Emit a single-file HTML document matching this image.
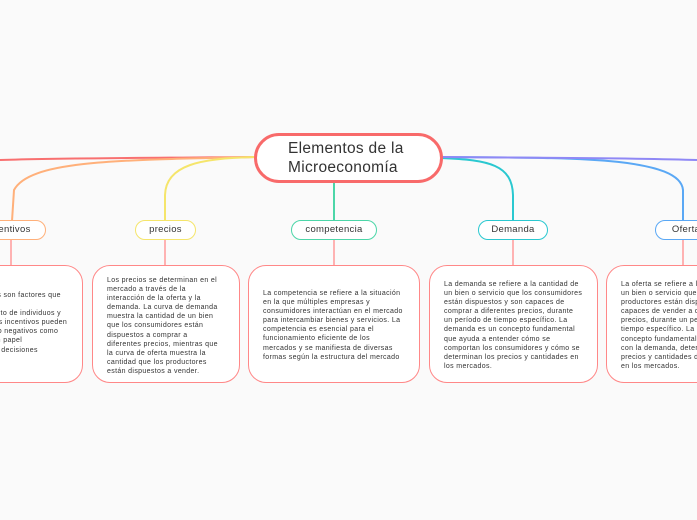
<!DOCTYPE html>
<html><head><meta charset="utf-8"><style>
body{margin:0;width:697px;height:520px;overflow:hidden;background:#fafafa;font-family:"Liberation Sans",sans-serif;position:relative}
.a{position:absolute}
.pill{position:absolute;height:18px;border:1.5px solid;border-radius:10px;background:#fff;font-size:9.5px;color:#333;text-align:center;line-height:18px;letter-spacing:0.3px}
.box{position:absolute;top:265px;height:118px;border:1.5px solid #f88;border-radius:18px;background:#fff;box-sizing:border-box}
.t{position:absolute;font-size:7px;line-height:9.1px;color:#333;white-space:nowrap;letter-spacing:0.35px}
</style></head><body>
<svg class="a" style="left:0;top:0" width="697" height="520" fill="none" stroke-width="2">
<path d="M256 157 C150 158 60 158 0 160" stroke="#f87070"/>
<path d="M256 157 C120 160 30 160 14 190 L12 221" stroke="#ffb07a"/>
<path d="M256 157 C200 158 166 165 165 195 L165 221" stroke="#f5e56b"/>
<path d="M334 183 L334 221" stroke="#4cd6a8"/>
<path d="M441 158 C490 160 512 165 513 195 L513 221" stroke="#2ac8d0"/>
<path d="M441 157 C560 158 680 155 683 190 L683 221" stroke="#5aa8f5"/>
<path d="M441 157 C560 158 640 158 697 160" stroke="#8f88f5"/>
<g stroke="#f99" stroke-width="1.5">
<path d="M11 240V265M165 240V265M334 240V265M513 240V265M683 240V265"/>
</g>
</svg>
<div class="a" style="left:254px;top:133px;width:189px;height:50px;box-sizing:border-box;border:3px solid #f86a6a;border-radius:25px;background:#fff"></div>
<div class="a" style="left:288px;top:139px;font-size:15.5px;line-height:19px;color:#333;letter-spacing:0.3px">Elementos de la<br>Microeconomía</div>
<div class="pill" style="left:-30px;top:220px;width:74px;border-color:#ffb07a">incentivos</div>
<div class="pill" style="left:135px;top:220px;width:59px;border-color:#f5e56b">precios</div>
<div class="pill" style="left:291px;top:220px;width:84px;border-color:#4cd6a8">competencia</div>
<div class="pill" style="left:478px;top:220px;width:68px;border-color:#2ac8d0">Demanda</div>
<div class="pill" style="left:655px;top:220px;width:60px;border-color:#5aa8f5">Oferta</div>
<div class="box" style="left:-60px;width:143px"></div>
<div class="box" style="left:92px;width:148px"></div>
<div class="box" style="left:248px;width:172px"></div>
<div class="box" style="left:429px;width:169px"></div>
<div class="box" style="left:606px;width:150px"></div>
<div class="t" style="left:-48px;top:291px">Los incentivos son factores que<br>influyen en el<br>comportamiento de individuos y<br>empresas. Los incentivos pueden<br>ser positivos o negativos como<br>que juegan un papel<br>en la toma de decisiones</div>
<div class="t" style="left:107px;top:276px">Los precios se determinan en el<br>mercado a través de la<br>interacción de la oferta y la<br>demanda. La curva de demanda<br>muestra la cantidad de un bien<br>que los consumidores están<br>dispuestos a comprar a<br>diferentes precios, mientras que<br>la curva de oferta muestra la<br>cantidad que los productores<br>están dispuestos a vender.</div>
<div class="t" style="left:263px;top:289px">La competencia se refiere a la situación<br>en la que múltiples empresas y<br>consumidores interactúan en el mercado<br>para intercambiar bienes y servicios. La<br>competencia es esencial para el<br>funcionamiento eficiente de los<br>mercados y se manifiesta de diversas<br>formas según la estructura del mercado</div>
<div class="t" style="left:444px;top:280px">La demanda se refiere a la cantidad de<br>un bien o servicio que los consumidores<br>están dispuestos y son capaces de<br>comprar a diferentes precios, durante<br>un período de tiempo específico. La<br>demanda es un concepto fundamental<br>que ayuda a entender cómo se<br>comportan los consumidores y cómo se<br>determinan los precios y cantidades en<br>los mercados.</div>
<div class="t" style="left:621px;top:280px">La oferta se refiere a la cantidad de<br>un bien o servicio que los<br>productores están dispuestos y son<br>capaces de vender a diferentes<br>precios, durante un período de<br>tiempo específico. La oferta es un<br>concepto fundamental que junto<br>con la demanda, determina los<br>precios y cantidades de equilibrio<br>en los mercados.</div>
</body></html>
